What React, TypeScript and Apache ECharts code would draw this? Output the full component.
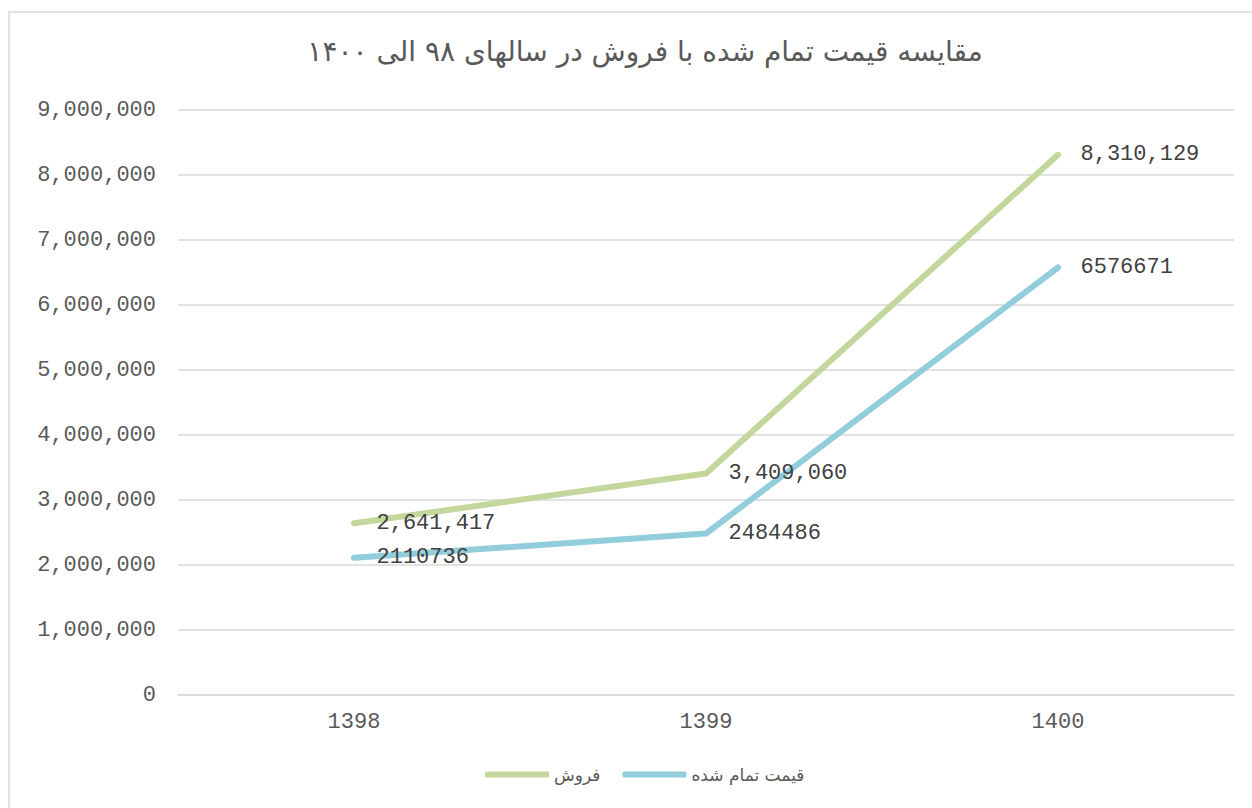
import React, { useEffect, useRef } from "react";
import * as echarts from "echarts";

const titleText = "مقایسه قیمت تمام شده با فروش در سالهای ۹۸ الی ۱۴۰۰";
const years = ["1398", "1399", "1400"];
const salesName = "فروش";
const costName = "قیمت تمام شده";
const salesValues = [2641417, 3409060, 8310129];
const costValues = [2110736, 2484486, 6576671];
const yMin = 0;
const yMax = 9000000;
const yInterval = 1000000;

const mono = "'Liberation Mono', 'Courier New', monospace";
const arabic = "'DejaVu Sans', 'Noto Sans', sans-serif";

const fmt = (v: number) => String(v).replace(/\B(?=(\d{3})+(?!\d))/g, ",");

export default function App() {
  const ref = useRef<HTMLDivElement>(null);
  useEffect(() => {
    if (!ref.current) return;
    const chart = echarts.init(ref.current, undefined, { renderer: "svg" });
    chart.setOption({
      animation: false,
      backgroundColor: "#ffffff",
      graphic: [
        {
          type: "rect",
          shape: { x: 9, y: 12, width: 1400, height: 1000 },
          style: { fill: "none", stroke: "#d9d9d9", lineWidth: 1.5 },
          silent: true,
        },
      ],
      title: {
        text: titleText,
        left: 640,
        textAlign: "center",
        top: 32,
        textStyle: { fontFamily: arabic, fontSize: 28, fontWeight: "normal", color: "#595959" },
      },
      legend: {
        bottom: 20,
        left: 480,
        itemWidth: 64,
        itemHeight: 6,
        itemGap: 22,
        icon: "roundRect",
        textStyle: { fontFamily: arabic, fontSize: 17, color: "#595959" },
        data: [salesName, costName],
      },
      grid: { left: 178, right: 18, top: 110, bottom: 113 },
      xAxis: {
        type: "category",
        data: years,
        boundaryGap: true,
        axisLine: { lineStyle: { color: "#d9d9d9", width: 1.5 } },
        axisTick: { show: false },
        axisLabel: { color: "#595959", fontFamily: mono, fontSize: 22, margin: 16 },
      },
      yAxis: {
        type: "value",
        min: yMin,
        max: yMax,
        interval: yInterval,
        axisLine: { show: false },
        axisTick: { show: false },
        splitLine: { lineStyle: { color: "#d9d9d9", width: 1.5 } },
        axisLabel: {
          color: "#595959",
          fontFamily: mono,
          fontSize: 22,
          margin: 22,
          formatter: (v: number) => fmt(v),
        },
      },
      series: [
        {
          name: salesName,
          type: "line",
          data: salesValues,
          symbol: "circle",
          symbolSize: 1,
          lineStyle: { color: "#c3d69b", width: 6, cap: "round", join: "round" },
          itemStyle: { color: "#c3d69b" },
          label: {
            show: true,
            position: "right",
            distance: 22,
            color: "#404040",
            fontFamily: mono,
            fontSize: 22,
            formatter: (p: any) => fmt(p.value),
          },
        },
        {
          name: costName,
          type: "line",
          data: costValues,
          symbol: "circle",
          symbolSize: 1,
          lineStyle: { color: "#92cddc", width: 6, cap: "round", join: "round" },
          itemStyle: { color: "#92cddc" },
          label: {
            show: true,
            position: "right",
            distance: 22,
            color: "#404040",
            fontFamily: mono,
            fontSize: 22,
            formatter: (p: any) => String(p.value),
          },
        },
      ],
    });
    return () => chart.dispose();
  }, []);
  return (
    <div
      ref={ref}
      style={{ position: "absolute", left: 0, top: 0, width: 1252, height: 808 }}
    />
  );
}
